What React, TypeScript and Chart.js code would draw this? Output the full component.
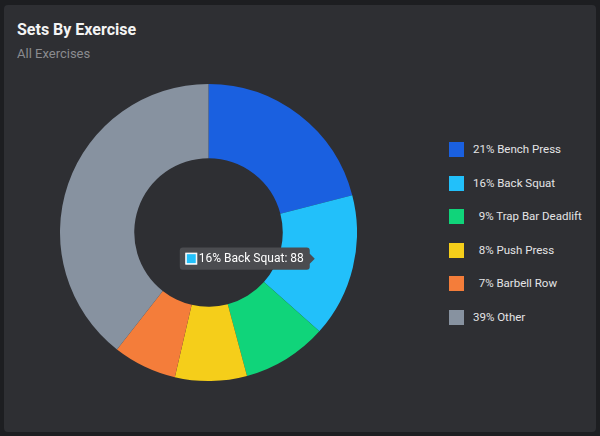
import React, { useEffect, useRef } from "react";
import { Chart, registerables } from "chart.js";

Chart.register(...registerables);

const exercises = ["Bench Press", "Back Squat", "Trap Bar Deadlift", "Push Press", "Barbell Row", "Other"];
const percents = [21, 16, 9, 8, 7, 39];
const sets = [118, 88, 52, 44, 39, 222];
const colors = ["#1a60e0", "#22c0fa", "#10d47a", "#f5ce1a", "#f47d3a", "#8792a0"];
const labels = exercises.map((e, i) => `${percents[i]}% ${e}`);
const legendLabels = exercises.map((e, i) => `${percents[i] < 10 ? "  " : ""}${percents[i]}% ${e}`);

const FONT = "Roboto, 'Noto Sans', sans-serif";

export default function App() {
  const canvasRef = useRef<HTMLCanvasElement | null>(null);

  useEffect(() => {
    const prevMargin = document.body.style.margin;
    document.body.style.margin = "0";
    const canvas = canvasRef.current;
    if (!canvas) return;
    const chart = new Chart(canvas, {
      type: "doughnut",
      data: {
        labels,
        datasets: [
          {
            data: sets,
            backgroundColor: colors,
            hoverBackgroundColor: colors,
            borderColor: "#ffffff",
            borderWidth: 0,
            hoverBorderWidth: 0,
            hoverOffset: 0,
          },
        ],
      },
      options: {
        responsive: false,
        animation: false,
        cutout: "50%",
        layout: { padding: 0 },
        events: [],
        plugins: {
          legend: { display: false },
          title: { display: false },
          tooltip: {
            enabled: true,
            backgroundColor: "#4b4c50",
            bodyColor: "#ffffff",
            bodyFont: { family: FONT, size: 12 },
            padding: { left: 6, right: 6, top: 4, bottom: 4 },
            cornerRadius: 3,
            caretSize: 5,
            caretPadding: 2,
            displayColors: true,
            boxWidth: 11,
            boxHeight: 11,
            callbacks: {
              title: () => "",
              label: (ctx: any) => `${ctx.label}: ${ctx.formattedValue}`,
            },
          },
        },
      },
    });
    const meta = chart.getDatasetMeta(0);
    const el: any = meta.data[1];
    const pos = el.tooltipPosition();
    chart.tooltip?.setActiveElements([{ datasetIndex: 0, index: 1 }], { x: pos.x, y: pos.y });
    chart.update();
    return () => {
      chart.destroy();
      document.body.style.margin = prevMargin;
    };
  }, []);

  return (
    <div
      style={{
        position: "fixed",
        left: 0,
        top: 0,
        width: 600,
        height: 436,
        background: "#1d1e21",
        fontFamily: FONT,
        overflow: "hidden",
      }}
    >
      <div
        style={{
          position: "absolute",
          left: 4,
          top: 5,
          width: 592,
          height: 427,
          background: "#2e2f33",
          borderRadius: 4,
        }}
      />
      <div
        style={{
          position: "absolute",
          left: 17,
          top: 22,
          fontSize: 16,
          lineHeight: "16px",
          fontWeight: 700,
          color: "#f4f4f4",
          whiteSpace: "nowrap",
        }}
      >
        Sets By Exercise
      </div>
      <div
        style={{
          position: "absolute",
          left: 17,
          top: 47,
          fontSize: 13,
          lineHeight: "13px",
          color: "#8a8b8f",
          whiteSpace: "nowrap",
        }}
      >
        All Exercises
      </div>
      <canvas
        ref={canvasRef}
        width={297}
        height={297}
        style={{ position: "absolute", left: 60, top: 84, width: 297, height: 297 }}
      />
      <div style={{ position: "absolute", left: 449, top: 142 }}>
        {legendLabels.map((t, i) => (
          <div
            key={i}
            style={{ display: "flex", alignItems: "center", height: 15, marginBottom: 18.5 }}
          >
            <div style={{ width: 15, height: 15, background: colors[i], flex: "none" }} />
            <span
              style={{
                marginLeft: 9,
                fontSize: 11.5,
                lineHeight: "15px",
                color: "#e4e4e6",
                whiteSpace: "pre",
              }}
            >
              {t}
            </span>
          </div>
        ))}
      </div>
    </div>
  );
}
